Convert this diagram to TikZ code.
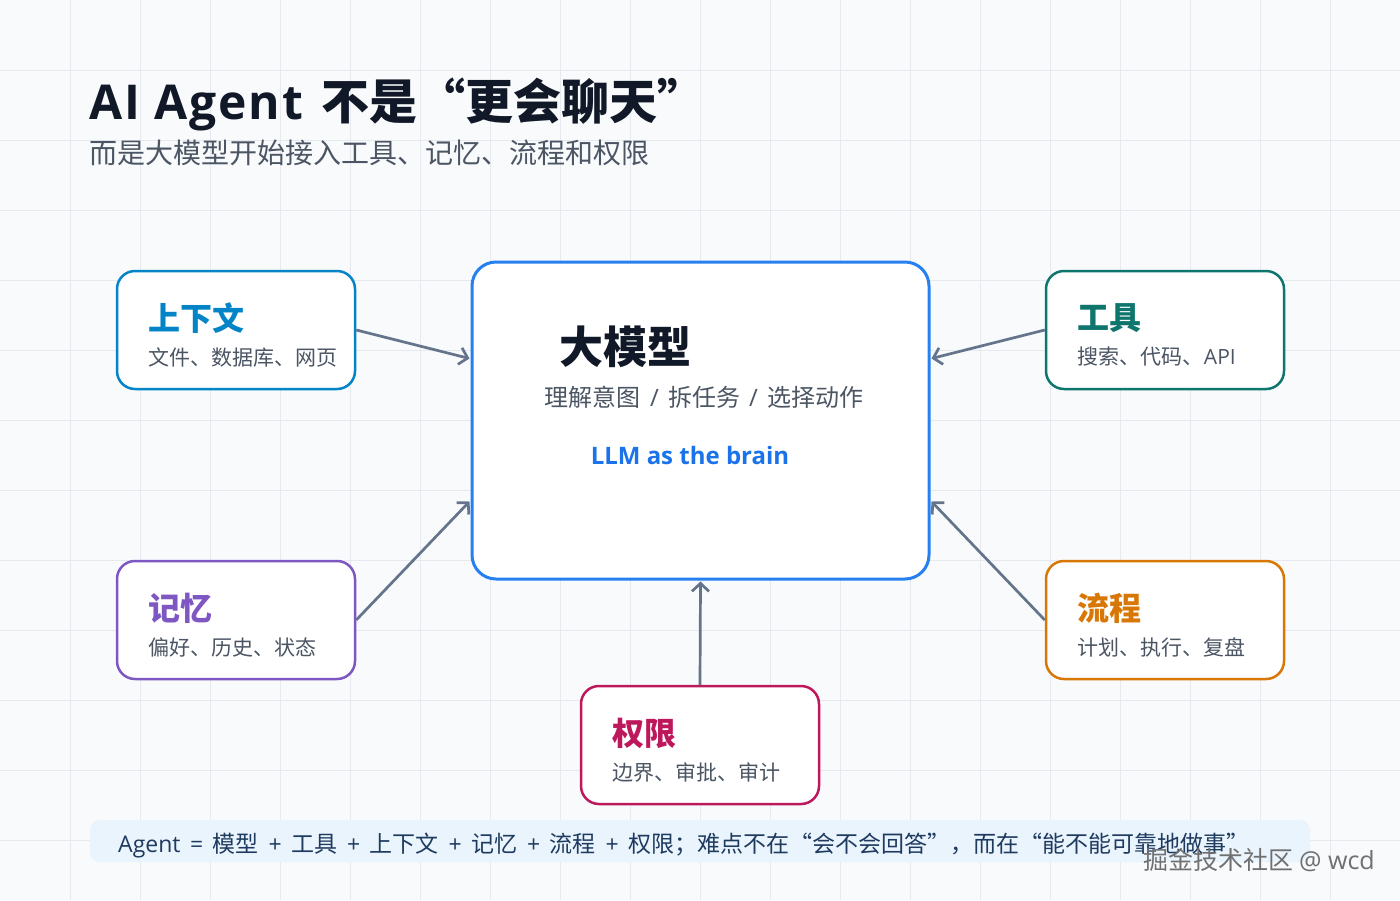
\documentclass[tikz,border=0pt]{standalone}
\usepackage{fontspec}
\setmainfont{Noto Sans CJK SC}
\newfontfamily\lat{Open Sans}
\usetikzlibrary{arrows.meta,calc}
\definecolor{bgc}{HTML}{F8FAFC}
\definecolor{gridc}{HTML}{E6EAF0}
\definecolor{titlec}{HTML}{111827}
\definecolor{subc}{HTML}{4B5563}
\definecolor{ctxc}{HTML}{0284C7}
\definecolor{toolc}{HTML}{0F766E}
\definecolor{memc}{HTML}{7E57C2}
\definecolor{flowc}{HTML}{D97706}
\definecolor{permc}{HTML}{BE185D}
\definecolor{llmc}{HTML}{2680F0}
\definecolor{brainc}{HTML}{1A73E8}
\definecolor{arrc}{HTML}{64748B}
\definecolor{barc}{HTML}{EAF4FD}
\definecolor{bartext}{HTML}{1E3A5F}
\definecolor{wmc}{HTML}{707070}
\newcommand{\opx}[2][0.38em]{\hspace{#1}{\lat #2}\hspace{#1}}
\tikzset{
  card/.style={draw=#1, line width=2.5pt, fill=white, rounded corners=18pt,
    minimum width=238pt, minimum height=118pt, inner sep=0pt},
  cardtitle/.style={text=#1, font=\fontsize{32}{36}\selectfont\bfseries, inner sep=0pt, anchor=west},
  cardsub/.style={text=subc, font=\fontsize{21}{24}\selectfont, inner sep=0pt, anchor=west},
  feed/.style={draw=arrc, line width=2.7pt, -{Straight Barb[length=8pt,width=17pt]}},
}
\begin{document}
\begin{tikzpicture}[x=1pt,y=-1pt]
\useasboundingbox (0,0) rectangle (1400,900);
\fill[bgc] (0,0) rectangle (1400,900);
\foreach \i in {70,140,...,1330} \draw[gridc, line width=1pt] (\i,0) -- (\i,900);
\foreach \j in {70,140,...,840} \draw[gridc, line width=1pt] (0,\j) -- (1400,\j);

% title
\node[anchor=west, inner sep=0pt, text=titlec, font=\fontsize{48}{56}\selectfont\bfseries] (title) at (89,104) {{\lat\addfontfeature{LetterSpace=4}AI Agent }\hspace{4pt}不是“更会聊天”};
\node[anchor=west, inner sep=0pt, text=subc, font=\fontsize{28}{32}\selectfont] (subtitle) at (89,153) {而是大模型开始接入工具、记忆、流程和权限};

% center box
\node[draw=llmc, line width=3pt, fill=white, rounded corners=24pt, minimum width=457pt, minimum height=317pt] (llm) at (700.5,420.5) {};
\node[anchor=west, inner sep=0pt, text=titlec, font=\fontsize{44}{48}\selectfont\bfseries] (llmT) at (559,347) {大模型};
\node[inner sep=0pt, text=subc, font=\fontsize{24}{28}\selectfont] (llmS) at (704,397) {理解意图\opx{/}拆任务\opx{/}选择动作};
\node[inner sep=0pt, text=brainc, font=\fontsize{24}{28}\selectfont\bfseries\lat] (llmB) at (690,455) {LLM as the brain};

% cards
\node[card=ctxc] (ctx) at (236,330) {};
\node[cardtitle=ctxc] (ctxT) at ([xshift=33pt,yshift=12pt]ctx.west) {上下文};
\node[cardsub] (ctxS) at ([xshift=33pt,yshift=-27pt]ctx.west) {文件、数据库、网页};

\node[card=toolc] (tool) at (1165,330) {};
\node[cardtitle=toolc] (toolT) at ([xshift=33pt,yshift=12pt]tool.west) {工具};
\node[cardsub] (toolS) at ([xshift=33pt,yshift=-27pt]tool.west) {搜索、代码、{\lat API}};

\node[card=memc] (mem) at (236,620) {};
\node[cardtitle=memc] (memT) at ([xshift=33pt,yshift=12pt]mem.west) {记忆};
\node[cardsub] (memS) at ([xshift=33pt,yshift=-27pt]mem.west) {偏好、历史、状态};

\node[card=flowc] (flow) at (1165,620) {};
\node[cardtitle=flowc] (flowT) at ([xshift=33pt,yshift=12pt]flow.west) {流程};
\node[cardsub] (flowS) at ([xshift=33pt,yshift=-27pt]flow.west) {计划、执行、复盘};

\node[card=permc] (perm) at (700,745) {};
\node[cardtitle=permc] (permT) at ([xshift=33pt,yshift=12pt]perm.west) {权限};
\node[cardsub] (permS) at ([xshift=33pt,yshift=-27pt]perm.west) {边界、审批、审计};

% arrow targets on the center box
\coordinate (inCtx) at ([yshift=-98pt,xshift=-1pt]llm.north west);
\coordinate (inTool) at ([yshift=-98pt,xshift=1pt]llm.north east);
\coordinate (inMem) at ([yshift=79pt,xshift=-1pt]llm.south west);
\coordinate (inFlow) at ([yshift=79pt,xshift=1pt]llm.south east);
\coordinate (inPerm) at ([yshift=-1pt]llm.south);

\draw[feed] (ctx.east) -- (inCtx);
\draw[feed] (tool.west) -- (inTool);
\draw[feed] (mem.east) -- (inMem);
\draw[feed] (flow.west) -- (inFlow);
\draw[feed] (perm.north) -- (inPerm);

% bottom bar
\node[fill=barc, rounded corners=10pt, minimum width=1220pt, minimum height=42pt, inner sep=0pt] (bar) at (700,841) {};
\node[anchor=west, inner sep=0pt, text=bartext, font=\fontsize{23}{26}\selectfont] (barT) at (118,846) {{\lat Agent}\opx[0.42em]{=}模型\opx[0.42em]{+}工具\opx[0.42em]{+}上下文\opx[0.42em]{+}记忆\opx[0.42em]{+}流程\opx[0.42em]{+}权限；难点不在“会不会回答”，而在“能不能可靠地做事”};

% watermark
\node[anchor=east, inner sep=0pt, text=wmc, font=\fontsize{25}{28}\selectfont] (wm) at (1375,860) {掘金技术社区 {\lat @ wcd}};
\end{tikzpicture}
\end{document}
